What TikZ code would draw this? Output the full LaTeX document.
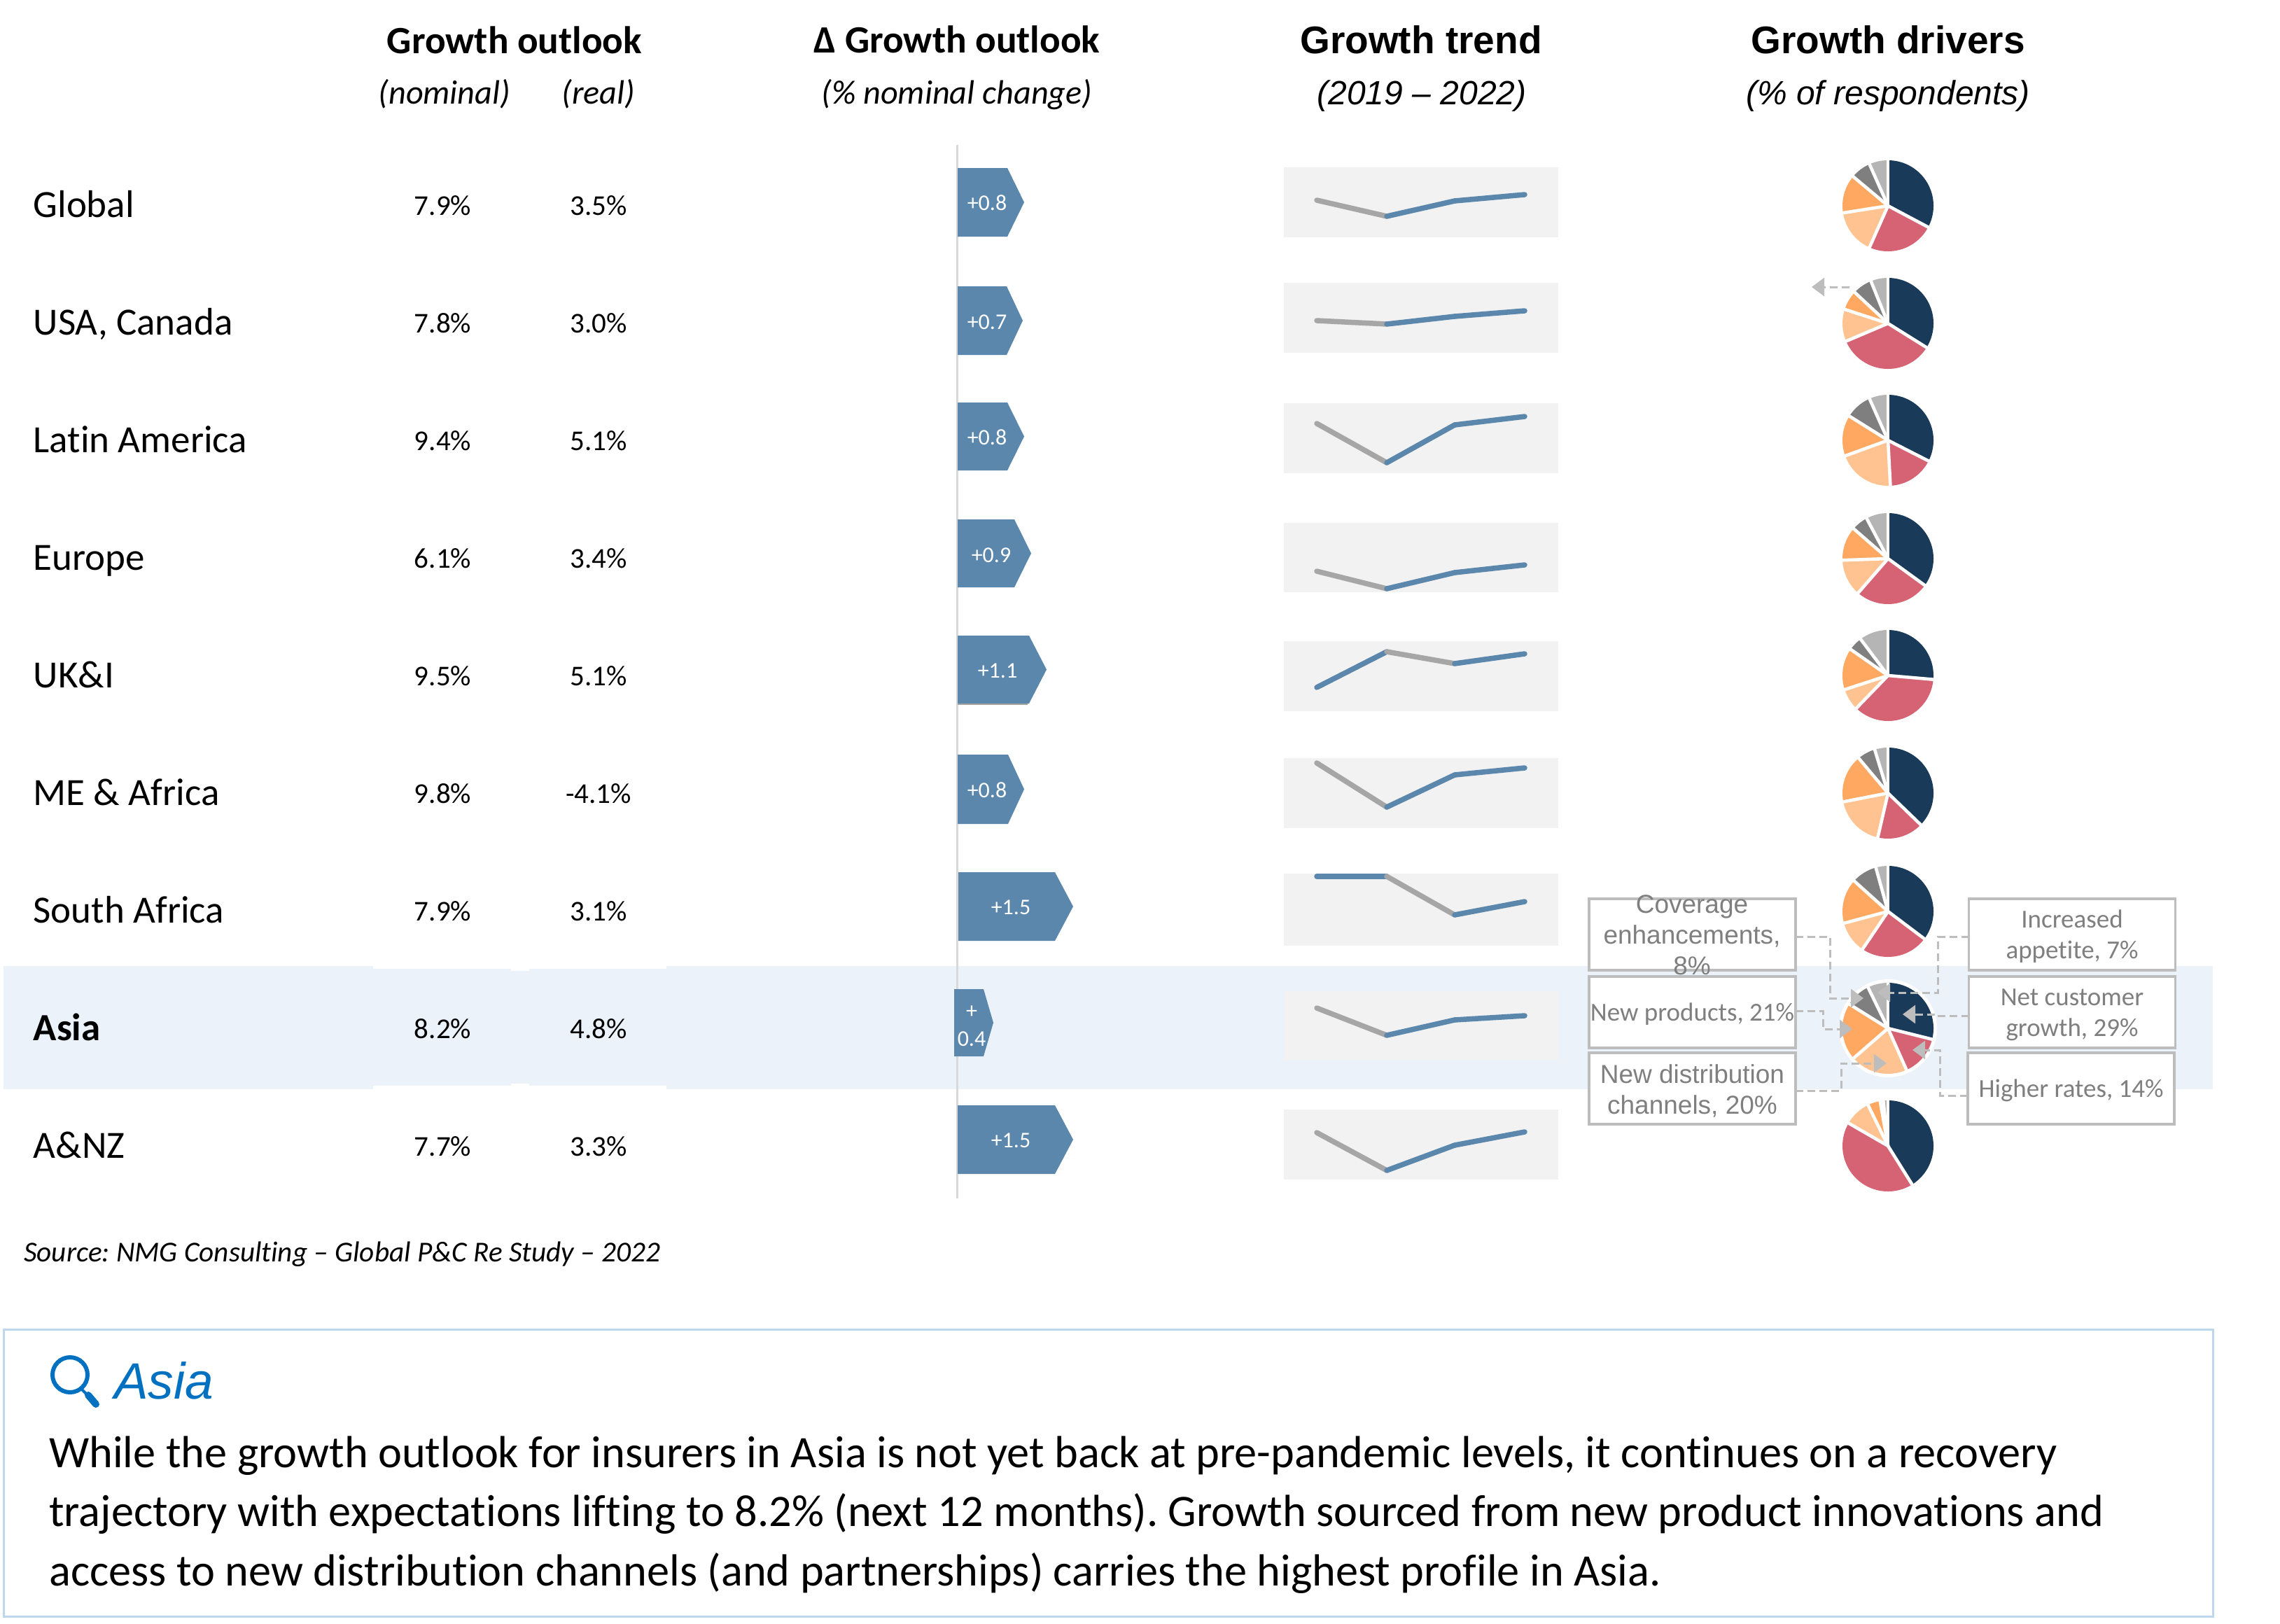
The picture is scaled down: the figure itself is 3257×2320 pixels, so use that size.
\documentclass[tikz,border=0pt]{standalone}
\usepackage{fontspec}
\setmainfont[Ligatures=CommonOff]{Carlito}
\newfontfamily\arialf{Liberation Sans}
\usetikzlibrary{arrows.meta}
\frenchspacing
\definecolor{cNavy}{HTML}{1A3A5A}
\definecolor{cRed}{HTML}{D66373}
\definecolor{cLOrange}{HTML}{FFC391}
\definecolor{cOrange}{HTML}{FFA861}
\definecolor{cDGrey}{HTML}{7F7F7F}
\definecolor{cLGrey}{HTML}{B5B5B5}
\definecolor{cBlue}{HTML}{5B87AD}
\definecolor{cBand}{HTML}{EBF2FA}
\definecolor{cSpark}{HTML}{F2F2F2}
\definecolor{cTrendGrey}{HTML}{A6A6A6}
\definecolor{cAxis}{HTML}{D9D9D9}
\definecolor{cCallout}{HTML}{BDBDBD}
\definecolor{cFrame}{HTML}{BDD7EE}
\definecolor{cAsia}{HTML}{0070C0}
\tikzset{
  x=1pt,y=-1pt,
  headbold/.style={anchor=base,inner sep=0pt,font=\fontsize{55.2}{60}\selectfont\bfseries},
  headarial/.style={anchor=base,inner sep=0pt,font=\arialf\fontsize{55}{60}\selectfont\bfseries},
  subhead/.style={anchor=base,inner sep=0pt,font=\fontsize{48.2}{52}\selectfont\itshape},
  subarial/.style={anchor=base,inner sep=0pt,font=\arialf\fontsize{48}{52}\selectfont\itshape},
  rowlabel/.style={anchor=base west,inner sep=0pt,font=\fontsize{55}{60}\selectfont},
  rowvalue/.style={anchor=base,inner sep=0pt,font=\fontsize{41}{44}\selectfont},
  chevtext/.style={inner sep=0pt,text=white,font=\fontsize{32}{36}\selectfont},
  callout/.style={draw=cCallout,fill=white,line width=3.5pt,inner sep=0pt,outer sep=0pt,
    minimum width=295pt,minimum height=102pt,align=center,text=cDGrey,
    font=\fontsize{37}{44}\selectfont},
  calloutarial/.style={callout,font=\arialf\fontsize{37}{44}\selectfont},
  conn/.style={draw=cCallout,line width=3pt,dash pattern=on 11pt off 6pt,
    -{Triangle[length=18pt,width=26pt,fill=cCallout]}},
  trendline/.style={line width=7.5pt,line cap=round},
  paraline/.style={anchor=base west,inner sep=0pt,font=\fontsize{64.3}{70}\selectfont},
}
\newcommand{\calltext}[2][8]{\vbox{\vskip #1pt\hbox{\begin{tabular}{@{}c@{}}#2\end{tabular}}}}
\newcommand{\pieseg}[3]{\fill[#3] (0,0) -- ({90-#1}:65) arc[start angle={90-#1},end angle={90-#2},radius=65] -- cycle;}
\newcommand{\slicepie}[7]{%
  \begin{scope}[shift={(#1,#2)},x=1pt,y=1pt]
    \pieseg{0}{#3}{cNavy}
    \pieseg{#3}{#4}{cRed}
    \pieseg{#4}{#5}{cLOrange}
    \pieseg{#5}{#6}{cOrange}
    \pieseg{#6}{#7}{cDGrey}
    \pieseg{#7}{360}{cLGrey}
    \foreach \q in {0,#3,#4,#5,#6,#7}{\draw[white,line width=4.6pt] (0,0) -- ({90-\q}:67);}
  \end{scope}}
\newcommand{\chev}[5]{\fill[cBlue] (#1,#2) -- (#4,#2) -- (#5,{(#2+#3)/2}) -- (#4,#3) -- (#1,#3) -- cycle;}
\newcommand{\spark}[9]{%
  \fill[cSpark] (1834,#1) rectangle (2226,#2);
  \draw[trendline,#7] (1881,#3) -- (1981,#4);
  \draw[trendline,#8] (1981,#4) -- (2078,#5);
  \draw[trendline,#9] (2078,#5) -- (2178,#6);}
\begin{document}
\begin{tikzpicture}
\useasboundingbox (0,0) rectangle (3257,2320);
\fill[white] (0,0) rectangle (3257,2320);

% highlighted row
\fill[cBand] (5,1380) rectangle (3161,1556);
\fill[white] (533,1380) rectangle (952,1384);
\fill[white] (533,1551) rectangle (952,1556);
\fill[white] (730,1384) rectangle (756,1387);
\fill[white] (730,1548) rectangle (756,1551);

% headers
\node[headbold] (h1) at (735,77) {Growth outlook};
\node[subhead] (h1a) at (635,149) {(nominal)};
\node[subhead] (h1b) at (855,149) {(real)};
\node[headbold] (h2) at (1367,76) {Δ Growth outlook};
\node[subhead] (h2a) at (1367,149) {(\% nominal change)};
\node[headarial] (h3) at (2030,77) {Growth trend};
\node[subarial] (h3a) at (2031,150) {(2019 – 2022)};
\node[headarial] (h4) at (2697,77) {Growth drivers};
\node[subarial] (h4a) at (2697,150) {(\% of respondents)};

% rows
\foreach \i/\lab/\nm/\rl in {0/Global/7.9\%/3.5\%,1/{USA, Canada}/7.8\%/3.0\%,2/Latin America/9.4\%/5.1\%,
  3/Europe/6.1\%/3.4\%,4/UK\&I/9.5\%/5.1\%,5/ME \& Africa/9.8\%/-4.1\%,6/South Africa/7.9\%/3.1\%,
  7/\textbf{Asia}/8.2\%/4.8\%,8/A\&NZ/7.7\%/3.3\%}{
  \pgfmathsetmacro{\yl}{310+168*\i}
  \pgfmathsetmacro{\yv}{307.5+168*\i}
  \node[rowlabel] (lab\i) at (47.5,\yl) {\lab};
  \node[rowvalue] (nom\i) at (632.5,\yv) {\nm};
  \node[rowvalue] (real\i) at (855,\yv) {\rl};
}

% axis
\draw[cAxis,line width=3pt] (1367,207) -- (1367,1712);

% delta chevrons
\chev{1368}{240}{338}{1439}{1463}
\chev{1368}{409}{507}{1438}{1461}
\chev{1368}{575}{672}{1439}{1463}
\chev{1368}{742}{839}{1449}{1473}
\fill[cTrendGrey] (1368,1005) rectangle (1468,1007);
\chev{1368}{908}{1005}{1470}{1495}
\chev{1368}{1078}{1177}{1440}{1463}
\chev{1369}{1246}{1344}{1507}{1533}
\chev{1363}{1413}{1509}{1405}{1419}
\chev{1368}{1579}{1677}{1507}{1533}
\node[chevtext] (d0) at (1410,290) {+0.8};
\node[chevtext] (d1) at (1410,460) {+0.7};
\node[chevtext] (d2) at (1410,625) {+0.8};
\node[chevtext] (d3) at (1416,793) {+0.9};
\node[chevtext] (d4) at (1425,958) {+1.1};
\node[chevtext] (d5) at (1410,1129) {+0.8};
\node[chevtext] (d6) at (1444,1296) {+1.5};
\node[chevtext] (d7a) at (1388,1446) {+};
\node[chevtext] (d7b) at (1388,1484) {0.4};
\node[chevtext] (d8) at (1444,1629) {+1.5};

% sparklines
\spark{239}{339}{286}{309}{287}{278}{cTrendGrey}{cBlue}{cBlue}
\spark{404}{504}{458}{463}{452}{444}{cTrendGrey}{cBlue}{cBlue}
\spark{576}{676}{605}{661}{607}{595}{cTrendGrey}{cBlue}{cBlue}
\spark{747}{846}{816}{841}{818}{807}{cTrendGrey}{cBlue}{cBlue}
\spark{916}{1016}{982}{931}{948}{934}{cBlue}{cTrendGrey}{cBlue}
\spark{1083}{1183}{1090}{1153}{1107}{1097}{cTrendGrey}{cBlue}{cBlue}
\spark{1248}{1351}{1252}{1252}{1307}{1288}{cBlue}{cTrendGrey}{cBlue}
\spark{1416}{1515}{1440}{1479}{1457}{1451}{cTrendGrey}{cBlue}{cBlue}
\spark{1585}{1685}{1618}{1672}{1636}{1617}{cTrendGrey}{cBlue}{cBlue}

% pies
\slicepie{2697}{294}{118}{204}{261}{310}{336}
\slicepie{2697}{462}{122}{247}{288}{313}{338}
\slicepie{2697}{629}{117}{177}{250}{302}{336}
\slicepie{2697}{798}{126}{221}{268}{311}{332}
\slicepie{2697}{965}{95}{224}{252}{305}{323}
\slicepie{2697}{1133}{134}{193}{259}{320}{343}
\slicepie{2697}{1302}{127}{214}{255}{312}{344.5}
\fill[white] (2697,1469) circle[radius=70];
\slicepie{2697}{1469}{104}{156}{229}{302}{334}
\slicepie{2697}{1637}{148}{300}{334}{350}{354}

% call-outs
\node[callout] (cov) at (2417.5,1335) {};
\node[inner sep=0pt,align=center,text=cDGrey,font=\arialf\fontsize{37}{44}\selectfont] (covtxt) at (2417,1336) {Coverage\\enhancements,\\8\%};
\node[callout] (newp) at (2417.5,1446) {\calltext{New products, 21\%}};
\node[calloutarial] (newd) at (2417.5,1555) {\calltext[12]{New distribution\\channels, 20\%}};
\node[callout] (inc) at (2960,1335) {\calltext{Increased\\appetite, 7\%}};
\node[callout] (netc) at (2960,1446) {\calltext{Net customer\\growth, 29\%}};
\node[callout] (high) at (2958.5,1555) {\calltext{Higher rates, 14\%}};

\coordinate (covk) at (2614,1338);
\coordinate (covtip) at (2662,1426);
\coordinate (inck) at (2768,1338);
\coordinate (inctip) at (2682,1418);
\coordinate (netk) at (2765,1451);
\coordinate (nettip) at (2718,1449);
\coordinate (highk) at (2771,1565);
\coordinate (hightip) at (2732,1500);
\coordinate (newpk) at (2604,1444);
\coordinate (newptip) at (2646,1470);
\coordinate (newdk) at (2630,1558);
\coordinate (newdtip) at (2695,1519);
\coordinate (usas) at (2642,410);
\coordinate (usae) at (2588,410);

\draw[conn] ([yshift=-3pt]cov.east) -- (covk) |- (covtip);
\draw[conn] ([yshift=-3pt]inc.west) -- (inck) |- (inctip);
\draw[conn] ([yshift=-5pt]netc.west) -- (netk) |- (nettip);
\draw[conn] ([yshift=-10pt]high.west) -- (highk) |- (hightip);
\draw[conn] ([yshift=2pt]newp.east) -- (newpk) |- (newptip);
\draw[conn] ([yshift=-3pt]newd.east) -- (newdk) |- (newdtip);
\draw[conn] (usas) -- (usae);

% source
\node[anchor=base west,inner sep=0pt,font=\fontsize{41.2}{44}\selectfont\itshape] (src) at (34,1802) {Source: NMG Consulting – Global P\&C Re Study – 2022};

% commentary frame
\node[draw=cFrame,line width=3pt,minimum width=3156pt,minimum height=410pt,inner sep=0pt,outer sep=0pt,anchor=north west] (frame) at (5,1899) {};
\draw[cAsia,line width=6pt] (100,1964) circle[radius=25];
\draw[cAsia,line width=4pt] (116,1984) -- (126,1994);
\draw[cAsia,line width=10pt,line cap=round] (126,1993) -- (137,2006);
\node[anchor=base west,inner sep=0pt,text=cAsia,font=\arialf\fontsize{73}{80}\selectfont\itshape] (asiah) at (163,1998) {Asia};
\node[paraline] (p1) at (70,2096) {While the growth outlook for insurers in Asia is not yet back at pre-pandemic levels, it continues on a recovery};
\node[paraline] (p2) at (70,2180) {trajectory with expectations lifting to 8.2\% (next 12 months). Growth sourced from new product innovations and};
\node[paraline] (p3) at (70,2265) {access to new distribution channels (and partnerships) carries the highest profile in Asia.};
\end{tikzpicture}
\end{document}
